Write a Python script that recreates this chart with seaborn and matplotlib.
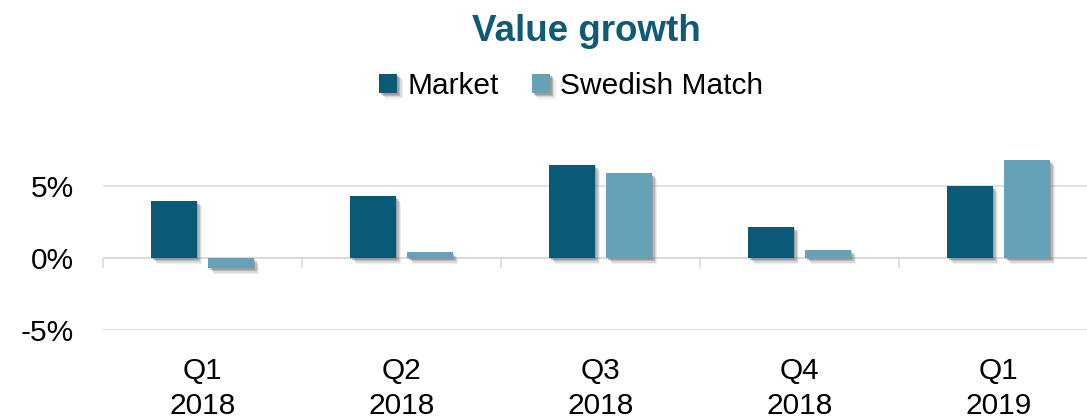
import matplotlib
matplotlib.use("Agg")
import matplotlib.pyplot as plt
import matplotlib.patheffects as pe
import seaborn as sns
import pandas as pd
import numpy as np

quarters = ["Q1\n2018", "Q2\n2018", "Q3\n2018", "Q4\n2018", "Q1\n2019"]
market = [4.0, 4.3, 6.5, 2.2, 5.0]
swedish_match = [-0.7, 0.4, 5.9, 0.6, 6.8]
series_names = ["Market", "Swedish Match"]
palette = ["#085A76", "#65A2B7"]
title_text = "Value growth"
ytick_vals = [-5, 0, 5]

df = pd.DataFrame({
    "quarter": quarters * 2,
    "value": market + swedish_match,
    "series": [series_names[0]] * len(quarters) + [series_names[1]] * len(quarters),
})

sns.set_theme(style="white")
plt.rcParams["font.family"] = ["Liberation Sans", "DejaVu Sans"]
plt.rcParams["text.color"] = "black"

W, H = 1087, 418
fig = plt.figure(figsize=(W / 100, H / 100), dpi=100)
ax = fig.add_axes([103 / W, (H - 330.3) / H, 995 / W, (330.3 - 143) / H])

sns.barplot(data=df, x="quarter", y="value", hue="series", palette=palette,
            saturation=1, width=0.573, gap=0.21, linewidth=0, ax=ax, legend=True)

handles, labels = ax.get_legend_handles_labels()
if ax.get_legend() is not None:
    ax.get_legend().remove()

shadow = [
    pe.SimplePatchShadow(offset=(1.2, -1.2), shadow_rgbFace="#505050", alpha=0.35),
    pe.SimplePatchShadow(offset=(2.2, -2.2), shadow_rgbFace="#606060", alpha=0.30),
    pe.SimplePatchShadow(offset=(3.2, -3.2), shadow_rgbFace="#808080", alpha=0.22),
    pe.SimplePatchShadow(offset=(4.2, -4.2), shadow_rgbFace="#a0a0a0", alpha=0.15),
    pe.Normal(),
]
for p in ax.patches:
    p.set_path_effects(shadow)

ax.set_xlim(-0.5, len(quarters) - 0.5)
ax.set_ylim(-5, 8)
ax.set_yticks(ytick_vals)
ax.set_yticklabels([f"{v}%" for v in ytick_vals])
ax.set_xlabel("")
ax.set_ylabel("")

ax.set_axisbelow(True)
ax.yaxis.grid(True, color="#D9D9D9", linewidth=1.1)
ax.xaxis.grid(False)
for s in ["top", "right", "left"]:
    ax.spines[s].set_visible(False)
ax.spines["bottom"].set_position(("data", 0))
ax.spines["bottom"].set_color("#D9D9D9")
ax.spines["bottom"].set_linewidth(1.1)
ax.spines["bottom"].set_zorder(0.5)

ax.set_xticks(np.arange(len(quarters) + 1) - 0.5, minor=True)
ax.tick_params(axis="x", which="minor", length=7.5, width=1.1, color="#D9D9D9", direction="out", bottom=True)
ax.tick_params(axis="x", which="major", length=0, pad=71, labelsize=21.5, labelcolor="black")
ax.tick_params(axis="y", length=0, pad=21, labelsize=21.5, labelcolor="black")
for t in ax.get_xticklabels():
    t.set_linespacing(1.32)

fig.text(586 / W, (H - 40.7) / H, title_text, ha="center", va="baseline",
         fontsize=26.5, fontweight="bold", color="#0F5B77")

leg = fig.legend(handles, labels, loc="center", bbox_to_anchor=(571.5 / W, 1 - 86 / H),
                 ncol=2, frameon=False, fontsize=21.5, handlelength=0.6, handleheight=0.6,
                 handletextpad=0.35, columnspacing=1.1, borderpad=0, borderaxespad=0)
for t in leg.get_texts():
    t.set_color("black")

fig.savefig("out.png", dpi=100)
